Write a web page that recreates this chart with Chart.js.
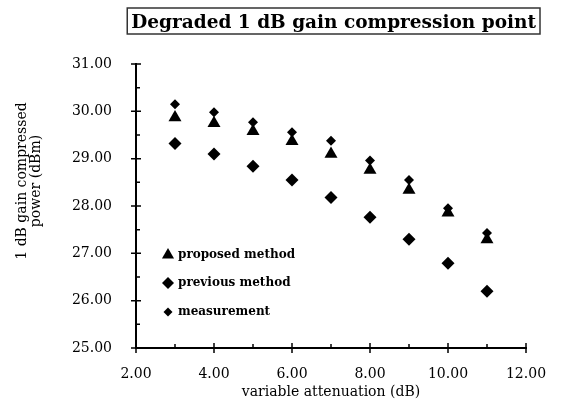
<!DOCTYPE html>
<html>
<head>
<meta charset="utf-8">
<script src="https://cdn.jsdelivr.net/npm/chart.js@4.4.1/dist/chart.umd.min.js"></script>
<style>
body { margin: 0; background: #fff; }
#wrap { width: 562px; height: 405px; position: relative; }
</style>
</head>
<body>
<div id="wrap"><canvas id="chart"></canvas></div>
<script>
const attenuation = [3, 4, 5, 6, 7, 8, 9, 10, 11];
const proposed    = [29.87, 29.75, 29.58, 29.37, 29.10, 28.76, 28.34, 27.86, 27.29];
const previous    = [29.32, 29.10, 28.84, 28.55, 28.18, 27.76, 27.30, 26.79, 26.20];
const measurement = [30.15, 29.98, 29.77, 29.56, 29.38, 28.96, 28.55, 27.95, 27.43];
const seriesNames = ['proposed method', 'previous method', 'measurement'];
const xTicks = [2, 4, 6, 8, 10, 12];
const yTicks = [25, 26, 27, 28, 29, 30, 31];
const chartTitle = 'Degraded 1 dB gain compression point';
const xTitle = 'variable attenuation (dB)';
const yTitle = ['1 dB gain compressed', 'power (dBm)'];

const serif = '"DejaVu Serif", "Liberation Serif", serif';

const toPoints = vals => vals.map((v, i) => ({ x: attenuation[i], y: v }));

// title box, rotated y title, inner legend and the crossing tick marks
const decorations = {
  id: 'decorations',
  afterDraw(chart) {
    const ctx = chart.ctx;
    const area = chart.chartArea;
    const xs = chart.scales.x, ys = chart.scales.y;
    ctx.save();
    ctx.strokeStyle = '#000';
    ctx.fillStyle = '#000';
    ctx.lineWidth = 1.5;

    ctx.beginPath();
    yTicks.forEach((v, i) => {
      const py = ys.getPixelForValue(v);
      ctx.moveTo(area.left - 5, py); ctx.lineTo(area.left + 5, py);
      if (i < yTicks.length - 1) {
        const pm = ys.getPixelForValue(v + 0.5);
        ctx.moveTo(area.left, pm); ctx.lineTo(area.left + 4, pm);
      }
    });
    xTicks.forEach((v, i) => {
      const px = xs.getPixelForValue(v);
      ctx.moveTo(px, area.bottom - 5); ctx.lineTo(px, area.bottom + 5);
      if (i < xTicks.length - 1) {
        const pm = xs.getPixelForValue(v + 1);
        ctx.moveTo(pm, area.bottom); ctx.lineTo(pm, area.bottom - 4);
      }
    });
    ctx.stroke();

    // title
    ctx.font = 'bold 18.5px ' + serif;
    ctx.textBaseline = 'alphabetic';
    ctx.textAlign = 'right';
    const tw = ctx.measureText(chartTitle).width;
    ctx.fillText(chartTitle, 536, 28);
    ctx.lineWidth = 1.5;
    ctx.strokeStyle = '#333';
    ctx.strokeRect(536 - tw - 4, 8, tw + 8, 26);

    // y title
    ctx.save();
    ctx.translate(22, 181);
    ctx.rotate(-Math.PI / 2);
    ctx.font = '14px ' + serif;
    ctx.textAlign = 'center';
    ctx.textBaseline = 'middle';
    ctx.fillText(yTitle[0], 0, 0);
    ctx.fillText(yTitle[1], 0, 14);
    ctx.restore();

    // legend
    ctx.font = 'bold 12px ' + serif;
    ctx.textAlign = 'left';
    ctx.textBaseline = 'middle';
    const rows = [255, 283, 312];
    chart.data.datasets.forEach((ds, i) => {
      const r = [7, 6, 4.5][i];
      Chart.helpers.drawPoint(ctx, { pointStyle: ds.pointStyle, radius: r, rotation: 0, borderWidth: 0 }, 168, rows[i]);
      ctx.fillText(ds.label, 178, rows[i]);
    });

    ctx.restore();
  }
};

new Chart(document.getElementById('chart'), {
  type: 'scatter',
  data: {
    datasets: [
      { label: seriesNames[0], data: toPoints(proposed), pointStyle: 'triangle', pointRadius: 7.5 },
      { label: seriesNames[1], data: toPoints(previous), pointStyle: 'rectRot', pointRadius: 6.5 },
      { label: seriesNames[2], data: toPoints(measurement), pointStyle: 'rectRot', pointRadius: 5 }
    ].map(d => Object.assign(d, {
      backgroundColor: '#000', borderColor: '#000', borderWidth: 0,
      pointHoverRadius: d.pointRadius, showLine: false
    }))
  },
  options: {
    responsive: true,
    maintainAspectRatio: false,
    animation: false,
    layout: { padding: { top: 64, right: 36, left: 0, bottom: 0 } },
    plugins: { legend: { display: false }, tooltip: { enabled: false }, title: { display: false } },
    scales: {
      x: {
        type: 'linear', min: 2, max: 12,
        afterBuildTicks: s => { s.ticks = xTicks.map(v => ({ value: v })); },
        afterFit: s => { s.height = 57; },
        grid: { display: false },
        border: { display: true, color: '#000', width: 2 },
        ticks: { color: '#000', font: { family: serif, size: 14 }, padding: 10, callback: v => v.toFixed(2), maxRotation: 0 },
        title: { display: true, text: xTitle, color: '#000', font: { family: serif, size: 14 }, padding: { top: 3 } }
      },
      y: {
        type: 'linear', min: 25, max: 31,
        afterBuildTicks: s => { s.ticks = yTicks.map(v => ({ value: v })); },
        afterFit: s => { s.width = 136; },
        grid: { display: false },
        border: { display: true, color: '#000', width: 2 },
        ticks: { color: '#000', font: { family: serif, size: 14 }, padding: 16, callback: v => v.toFixed(2) }
      }
    }
  },
  plugins: [decorations]
});
</script>
</body>
</html>
